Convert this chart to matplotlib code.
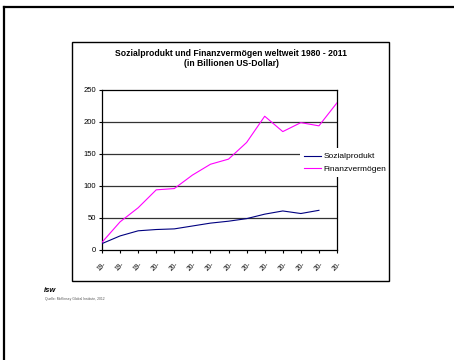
import matplotlib as mpl
import matplotlib.pyplot as plt
from matplotlib.lines import Line2D
from matplotlib.patches import Rectangle

mpl.use("Agg")

plt.rcParams.update({"font.family": "Liberation Sans"})

# data
tick_labels = ["19-", "19-", "19-", "20-", "20-", "20-", "20-",
               "20-", "20-", "20-", "20-", "20-", "20-", "20-"]
finanz = [12, 44, 66, 94, 96, 117, 134, 142, 168, 209, 185, 199, 194, 230]
sozial = [10, 22, 30, 32, 33, 37.5, 42, 45, 49, 56, 61, 57, 62]

W, H = 454, 360
fig = plt.figure(figsize=(W / 100, H / 100), dpi=100)


def fx(px):
    return px / W


def fy(py):
    return 1 - py / H


# page frame (left and top edges)
fig.add_artist(Line2D([fx(4), fx(4)], [fy(7), 0], color="black", lw=1.6,
                      transform=fig.transFigure))
fig.add_artist(Line2D([fx(4), 1], [fy(7), fy(7)], color="black", lw=1.6,
                      transform=fig.transFigure))

# chart box
fig.add_artist(Rectangle((fx(72), fy(281)), fx(389) - fx(72), fy(42) - fy(281),
                         transform=fig.transFigure, fill=False,
                         edgecolor="black", lw=1.0))

fig.text(fx(231), fy(53), "Sozialprodukt und Finanzvermögen weltweit 1980 - 2011",
         ha="center", va="center", fontsize=6.2, fontweight="bold")
fig.text(fx(231), fy(64), "(in Billionen US-Dollar)",
         ha="center", va="center", fontsize=6.2, fontweight="bold")

ax = fig.add_axes([fx(102), fy(250), fx(337) - fx(102), fy(90) - fy(250)])

x_f = list(range(len(finanz)))
x_s = list(range(len(sozial)))

for v in [50, 100, 150, 200]:
    ax.axhline(v, color="#333333", lw=0.9, zorder=1)

ax.plot(x_s, sozial, color="#000080", lw=0.8, label="Sozialprodukt", zorder=3)
ax.plot(x_f, finanz, color="#ff00ff", lw=0.8, label="Finanzvermögen", zorder=3)

ax.set_xlim(0, len(finanz) - 1)
ax.set_ylim(0, 250)
ax.set_yticks([0, 50, 100, 150, 200, 250])
ax.set_xticks(x_f)
ax.set_xticklabels(tick_labels, rotation=45, fontsize=4.8, ha="center")
ax.tick_params(axis="y", labelsize=5.5, length=2.5, width=0.8, pad=2)
ax.tick_params(axis="x", length=2.5, width=0.8, pad=5)

for s in ax.spines.values():
    s.set_linewidth(0.9)
    s.set_color("black")

leg = ax.legend(loc="center left", bbox_to_anchor=(fx(296), fy(163)),
                bbox_transform=fig.transFigure, fontsize=6, frameon=True,
                fancybox=False, handlelength=2.0, handletextpad=0.3,
                borderpad=0.5, labelspacing=0.6)
leg.get_frame().set_facecolor("white")
leg.get_frame().set_edgecolor("none")
leg.get_frame().set_alpha(1)
leg.set_zorder(10)

# footer
fig.text(fx(44), fy(291), "isw", fontsize=5.5, fontweight="bold",
         fontstyle="italic", va="center")
fig.text(fx(45), fy(299), "Quelle: McKinsey Global Institute, 2012",
         fontsize=2.4, color="#555555", va="center")

fig.savefig("out.png", dpi=100)
plt.close()
